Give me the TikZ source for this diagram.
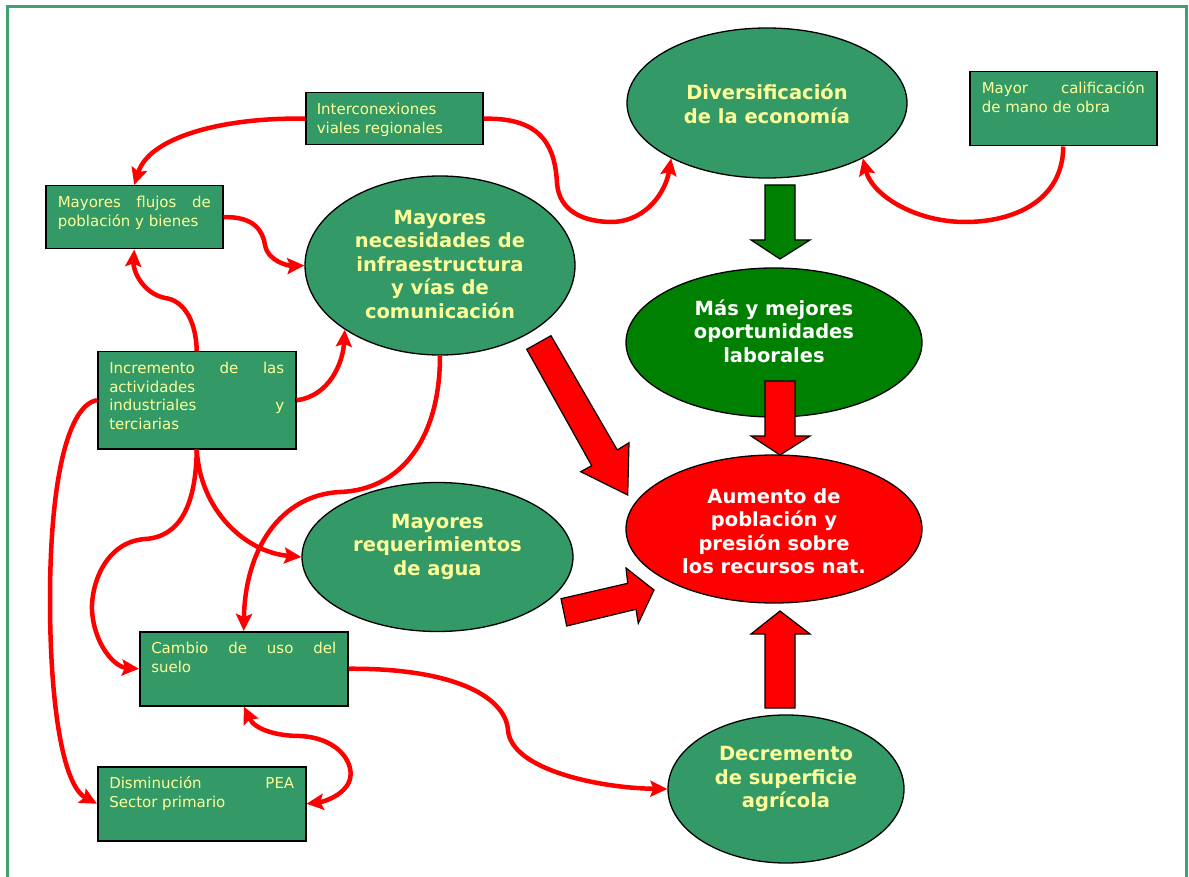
\documentclass[tikz,border=0pt]{standalone}
\usepackage{fontspec}
\setmainfont{DejaVu Sans}
\usetikzlibrary{shapes.geometric,arrows.meta}
\definecolor{boxg}{HTML}{339966}
\definecolor{dkg}{HTML}{008000}
\definecolor{txty}{HTML}{FFFF99}
\definecolor{framec}{HTML}{40A070}
\newcommand\bxfont{\fontsize{15}{18.5}\selectfont}
\newcommand\elfont{\fontsize{19.5}{23.5}\selectfont\bfseries}
\newcommand\jl[1]{\makebox[\linewidth][s]{#1}}
\newcommand\bxtext[3]{\parbox[c][#1][t]{#2}{\rule{0pt}{22pt}#3}}
\begin{document}
\begin{tikzpicture}[x=1pt,y=-1pt,
  sbox/.style={draw=black, line width=1.5pt, fill=boxg, inner xsep=12pt, inner ysep=0pt,
    anchor=north west, text=txty, font=\bxfont},
  ell/.style={ellipse, draw=black, line width=1.3pt, inner sep=0pt},
  etext/.style={text=txty, font=\elfont, align=center, inner sep=0pt},
  wtext/.style={text=white, font=\elfont, align=center, inner sep=0pt},
  conn/.style={draw=red, line width=4.5pt, -{Stealth[length=17pt,width=16pt,inset=3pt]}},
  conn2/.style={draw=red, line width=4.5pt, {Stealth[length=17pt,width=16pt,inset=3pt]}-{Stealth[length=17pt,width=16pt,inset=3pt]}},
  barrow/.style={draw=black, line width=1.2pt, fill=red},
  garrow/.style={draw=black, line width=1.2pt, fill=dkg}]
\useasboundingbox (0,0) rectangle (1189,877);
\fill[white] (0,0) rectangle (1189,877);
\draw[framec, line width=3pt] (7,877) -- (7,7) -- (1186,7) -- (1186,877);

% ellipses
\node[ell, fill=boxg, minimum width=280pt, minimum height=150pt] (div) at (767,103) {};
\node[etext] (divT) at (767,104) {Diversificación\\de la economía};
\node[ell, fill=boxg, minimum width=270pt, minimum height=179pt] (nec) at (440,265.5) {};
\node[etext] (necT) at (440,264.5) {Mayores\\necesidades de\\infraestructura\\y vías de\\comunicación};
\node[ell, fill=dkg, minimum width=296pt, minimum height=149pt] (mas) at (774,342.5) {};
\node[wtext] (masT) at (774,331) {Más y mejores\\oportunidades\\laborales};
\node[ell, fill=red, minimum width=296pt, minimum height=148pt] (aum) at (774,529) {};
\node[wtext] (aumT) at (774,531) {Aumento de\\población y\\presión sobre\\los recursos nat.};
\node[ell, fill=boxg, minimum width=271pt, minimum height=149pt] (agua) at (437.5,557) {};
\node[etext] (aguaT) at (437.5,546.5) {Mayores\\requerimientos\\de agua};
\node[ell, fill=boxg, minimum width=236pt, minimum height=148pt] (decr) at (786,789) {};
\node[etext] (decrT) at (786,779) {Decremento\\de superficie\\agrícola};

% boxes
\node[sbox, inner xsep=11pt] (inter) at (305,92) {\bxtext{52pt}{155pt}{Interconexiones\\viales regionales}};
\node[sbox] (flujos) at (45,185) {\bxtext{63pt}{153pt}{\jl{Mayores flujos de}\\población y bienes}};
\node[sbox, inner xsep=11.5pt] (incr) at (97,351) {\bxtext{97pt}{175pt}{\jl{Incremento de las}\\actividades\\\jl{industriales y}\\terciarias}};
\node[sbox, inner xsep=11.5pt] (camb) at (139,631) {\bxtext{74pt}{185pt}{\jl{Cambio de uso del}\\suelo}};
\node[sbox, inner xsep=11.5pt] (dism) at (97,766) {\bxtext{74pt}{185pt}{\jl{Disminución PEA}\\Sector primario}};
\node[sbox] (calif) at (969,71) {\bxtext{74pt}{163pt}{\jl{Mayor calificación}\\de mano de obra}};

% block arrows
\draw[garrow] (765,185) -- (795,185) -- (795,240) -- (810,240) -- (780,259) -- (751,240) -- (765,240) -- cycle;
\draw[barrow] (765,381) -- (795,381) -- (795,436) -- (810,436) -- (780,455) -- (751,436) -- (765,436) -- cycle;
\draw[barrow] (765,708) -- (795,708) -- (795,634) -- (810,634) -- (780,611) -- (751,634) -- (765,634) -- cycle;
\draw[barrow] (526.7,349.3) -- (551,335.7) -- (617.3,450) -- (629,442.7) -- (627.7,495) -- (580.7,471.7) -- (591.7,465.7) -- cycle;
\draw[barrow] (561,598.7) -- (627.7,583.3) -- (626,568) -- (654,590) -- (638.3,623.3) -- (636,609.3) -- (566.7,626) -- cycle;

% curved connectors
\draw[conn] (inter.west) .. controls (230,117) and (150,135) .. (flujos.north);
\draw[conn] (inter.east) .. controls (545,117) and (555,150) .. (557,183)
  .. controls (559,212) and (585,222) .. (612,222)
  .. controls (648,221) and (666,190) .. (div.210);
\draw[conn] (calif.south) .. controls (1063,200) and (1015,222) .. (965,222)
  .. controls (915,222) and (872,195) .. (div.-30);
\draw[conn] (flujos.east) .. controls (255,216) and (263,232) .. (265,245)
  .. controls (268,262) and (290,266) .. (nec.west);
\draw[conn] (incr.north) .. controls (196,318) and (182,300) .. (165,298)
  .. controls (142,293) and (133,270) .. (flujos.south);
\draw[conn] (incr.east) .. controls (330,396) and (343,362) .. (nec.214);
\draw[conn] (incr.west) .. controls (68,405) and (50,480) .. (50,600)
  .. controls (50,700) and (62,785) .. (dism.west);
\draw[conn] (incr.south) .. controls (196,505) and (180,537) .. (145,539)
  .. controls (105,542) and (91,585) .. (92,610)
  .. controls (94,645) and (115,667) .. (camb.west);
\draw[conn] (incr.south) .. controls (200,510) and (245,552) .. (agua.west);
\draw[conn] (nec.south) .. controls (440,440) and (400,490) .. (340,492)
  .. controls (280,495) and (245,550) .. (camb.north);
\draw[conn] (camb.east) .. controls (450,668) and (505,695) .. (508,730)
  .. controls (511,770) and (600,788) .. (decr.west);
\draw[conn2] (camb.south) .. controls (255,730) and (278,736) .. (300,736)
  .. controls (340,738) and (356,765) .. (349,782)
  .. controls (342,797) and (322,802) .. (dism.east);
\end{tikzpicture}
\end{document}
